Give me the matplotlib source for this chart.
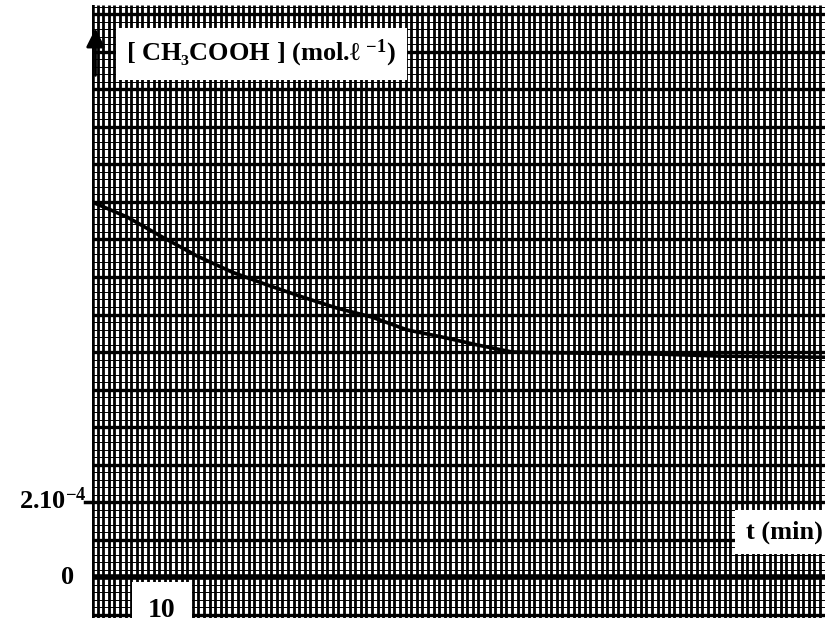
import numpy as np
import matplotlib
matplotlib.use("Agg")
import matplotlib.pyplot as plt

plt.rcParams['font.family'] = ['Liberation Serif', 'DejaVu Serif']
plt.rcParams['mathtext.fontset'] = 'custom'
plt.rcParams['mathtext.rm'] = 'Liberation Serif'
plt.rcParams['mathtext.bf'] = 'Liberation Serif:bold'
plt.rcParams['mathtext.default'] = 'bf'

# données (concentration en unités de 1e-4 mol/L)
t_min = [0, 5, 10, 15, 20, 25, 30, 35, 40, 45, 50, 55, 60, 70, 80, 90, 100, 105]
conc_e4 = [10.0, 9.6, 9.07, 8.56, 8.13, 7.79, 7.47, 7.17, 6.93, 6.59, 6.4, 6.19,
           6.0, 5.97, 5.95, 5.89, 5.87, 5.86]

ytick_pos = [0, 2]
ytick_lab = ["0", "2.10$^{-4}$"]
xtick_pos = [10]
xtick_lab = ["10"]

fig = plt.figure(figsize=(8.25, 6.28), dpi=100)
ax = fig.add_axes([92 / 825, 10 / 628, 733 / 825, 613 / 628])
ax.set_xlim(0, 104.7)
ax.set_ylim(-1.09, 15.25)
for s in ax.spines.values():
    s.set_visible(False)
ax.set_xticks([])
ax.set_yticks([])

# papier millimétré
ax.vlines(np.arange(0, 105, 0.8), -1.09, 15.25, color="black", lw=2.0, zorder=1)
ax.hlines(np.arange(-1, 15.3, 0.2), 0, 104.7, color="black", lw=0.7, zorder=1)
ax.hlines(np.arange(-1, 15.3, 1.0), 0, 104.7, color="black", lw=2.4, zorder=2)
ax.axhline(0, color="black", lw=4, zorder=3)
ax.axvline(0, color="black", lw=4, zorder=3)

# courbe
ax.plot(t_min, conc_e4, color="black", lw=2.6, zorder=4)

# graduations
ax.text(-2.5, ytick_pos[0], ytick_lab[0], ha="right", va="center", fontsize=19,
        fontweight="bold", clip_on=False)
ax.text(-0.8, ytick_pos[1] + 0.05, ytick_lab[1], ha="right", va="center",
        fontsize=19, fontweight="bold", clip_on=False)
ax.plot([-1.0, 0], [2, 2], color="black", lw=2.5, clip_on=False, zorder=5)
for x, lab in zip(xtick_pos, xtick_lab):
    ax.text(x, -0.9, lab, ha="center", va="center", fontsize=20, fontweight="bold",
            zorder=6, bbox=dict(boxstyle="square,pad=0.6", fc="white", ec="none"))

# titres des axes
ax.text(4.9, 13.95, "[ CH\u2083COOH ] (mol.\u2113 $^{-1}$)", fontsize=19,
        fontweight="bold", ha="left", va="center", zorder=6,
        bbox=dict(boxstyle="square,pad=0.4", fc="white", ec="none"))
ax.text(104.4, 1.2, "t (min)", fontsize=19, fontweight="bold", ha="right",
        va="center", zorder=6,
        bbox=dict(boxstyle="square,pad=0.4", fc="white", ec="none"))
ax.annotate("", xy=(0.5, 14.7), xytext=(0.5, 13.3),
            arrowprops=dict(arrowstyle="-|>", color="black", lw=2,
                            mutation_scale=28), zorder=7)

plt.savefig("out.png", dpi=100)
